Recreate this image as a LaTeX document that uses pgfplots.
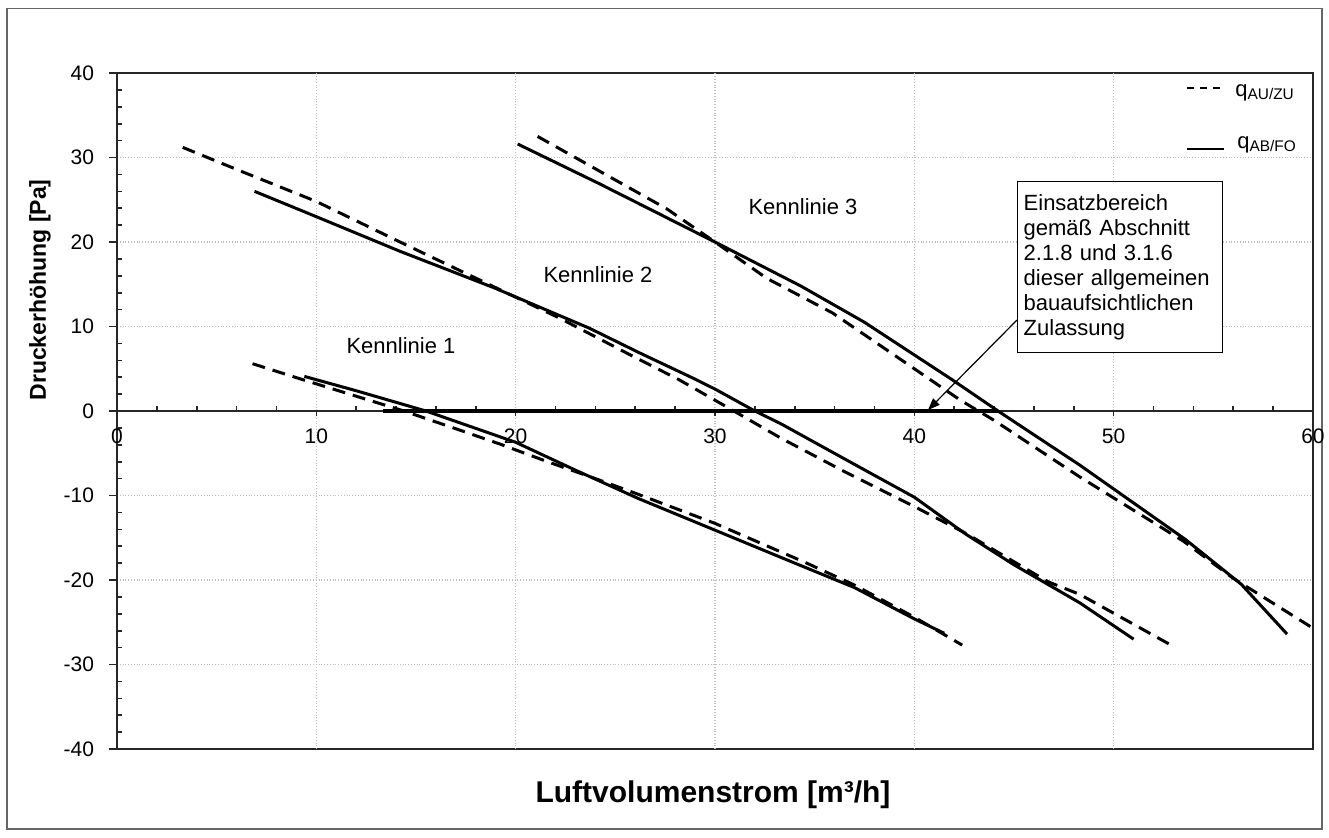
\documentclass[border=0pt]{standalone}
\usepackage{pgfplots}
\usepackage{pgfplotstable}
\pgfplotsset{compat=1.18}
\usepackage{fontspec}
\setmainfont{Liberation Sans}
\usetikzlibrary{arrows.meta}

\pgfplotstableread{
x y
6.8 5.6
9.2 3.8
11.8 1.9
14.4 0
17.0 -2.1
19.2 -3.9
21.6 -6.0
24.0 -8.0
26.2 -9.9
30.0 -13.3
34.6 -18.0
37.0 -20.6
40.0 -24.4
42.4 -27.7
}\kAdash
\pgfplotstableread{
x y
9.4 4.1
12.0 2.4
15.5 0
20.0 -3.7
23.0 -7.0
26.2 -10.4
30.0 -14.1
33.9 -17.9
37.0 -20.9
40.0 -24.6
41.5 -26.3
}\kAsolid
\pgfplotstableread{
x y
3.3 31.2
6.2 28.4
10.0 24.8
14.2 20.0
19.0 14.6
22.2 11.0
25.7 6.7
28.2 3.7
30.8 0.2
33.3 -3.2
36.6 -7.3
40.0 -11.3
42.6 -14.5
46.7 -20.2
48.3 -21.7
52.8 -27.6
}\kBdash
\pgfplotstableread{
x y
6.9 26.0
10.0 23.0
14.2 18.9
18.9 14.6
21.2 12.3
23.7 9.8
26.2 6.9
28.8 4.0
30.0 2.6
32.0 0
33.3 -1.5
36.6 -5.8
40.0 -10.2
42.6 -14.6
45.0 -18.2
48.3 -22.7
51.0 -27.0
}\kBsolid
\pgfplotstableread{
x y
21.1 32.5
24.2 28.4
27.6 23.9
30.0 20.0
32.6 15.7
35.9 11.6
42.3 1.3
44.0 -1.1
48.3 -7.8
53.5 -15.4
56.0 -19.8
60.0 -25.7
}\kCdash
\pgfplotstableread{
x y
20.1 31.6
24.2 26.9
30.0 20.0
34.3 14.8
37.5 10.5
41.9 3.7
44.2 0
48.3 -6.4
53.6 -15.2
56.4 -20.5
58.7 -26.4
}\kCsolid

\begin{document}
\begin{tikzpicture}
\useasboundingbox (0,0) rectangle (664.5pt,-418.5pt);
\draw[black!60, line width=0.7pt] (3.5pt,-4.25pt) rectangle (661pt,-414.5pt);

\begin{axis}[
 at={(58.5pt,-374.5pt)}, anchor=south west,
 scale only axis, width=598pt, height=338pt,
 xmin=0, xmax=60, ymin=-40, ymax=40,
 axis line style={line width=1pt, black!85},
 xtick=\empty,
 extra x ticks={10,20,30,40,50},
 extra x tick labels={},
 extra x tick style={xmajorgrids=true, major tick length=0pt},
 ytick={-40,-30,...,40},
 ytick pos=left,
 tick align=outside,
 major tick length=4pt,
 ymajorgrids=true,
 major grid style={densely dotted, black!25, line width=0.6pt},
 extra y ticks={-38,-36,-34,-32,-28,-26,-24,-22,-18,-16,-14,-12,-8,-6,-4,-2,2,4,6,8,12,14,16,18,22,24,26,28,32,34,36,38},
 extra y tick labels={},
 extra y tick style={tick align=inside, major tick length=2.5pt, ymajorgrids=false},
 tick style={black!85, line width=0.8pt},
 yticklabel style={font=\fontsize{10.5}{12}\selectfont, xshift=-4pt},
 /pgf/number format/assume math mode=true,
]
\end{axis}

\begin{axis}[
 at={(58.5pt,-374.5pt)}, anchor=south west,
 scale only axis, width=598pt, height=338pt,
 xmin=0, xmax=60, ymin=-40, ymax=40,
 axis x line=middle, axis y line=none,
 x axis line style={-, line width=0.9pt, black!85},
 xtick={0,10,...,60},
 tick align=outside,
 major tick length=2.5pt,
 extra x ticks={2,4,6,8,12,14,16,18,22,24,26,28,32,34,36,38,42,44,46,48,52,54,56,58},
 extra x tick labels={},
 extra x tick style={tick align=inside, major tick length=2.5pt},
 tick style={black!85, line width=0.8pt},
 xticklabel style={font=\fontsize{10.5}{12}\selectfont, yshift=-3pt},
 /pgf/number format/assume math mode=true,
]
\addplot[black, line width=1.5pt, dash pattern=on 6.5pt off 4pt] table {\kAdash};
\addplot[black, line width=1.5pt] table {\kAsolid};
\addplot[black, line width=1.5pt, dash pattern=on 6.5pt off 4pt] table {\kBdash};
\addplot[black, line width=1.5pt] table {\kBsolid};
\addplot[black, line width=1.5pt, dash pattern=on 6.5pt off 4pt] table {\kCdash};
\addplot[black, line width=1.5pt] table {\kCsolid};
\addplot[black, line width=2pt] coordinates {(13.35,0) (44.2,0)};
\end{axis}

\begin{scope}[x=0.5pt, y=-0.5pt]
\node[font=\fontsize{11}{13}\selectfont] at (401,346) {Kennlinie 1};
\node[font=\fontsize{11}{13}\selectfont] at (598,275) {Kennlinie 2};
\node[font=\fontsize{11}{13}\selectfont] at (803,207) {Kennlinie 3};
\node[draw=black, line width=0.7pt, fill=white, anchor=north west, text width=96.5pt,
      inner xsep=3pt, minimum height=85.5pt, align=left,
      font=\fontsize{11}{12.5}\selectfont] at (1017,181)
  {Einsatzbereich\\gemäß Abschnitt\\2.1.8 und 3.1.6\\dieser allgemeinen\\bauaufsichtlichen\\Zulassung};
\draw[black, line width=0.6pt, -{Triangle[length=6pt, width=4.5pt]}] (1017,320) -- (928,410);
\draw[black, line width=1.3pt, dash pattern=on 3.5pt off 3pt] (1187,88) -- (1222,88);
\node[anchor=base west, inner sep=0pt, font=\fontsize{11}{13}\selectfont] at (1235,96) {q\textsubscript{AU/ZU}};
\draw[black, line width=1.3pt] (1187,149) -- (1224,149);
\node[anchor=base west, inner sep=0pt, font=\fontsize{11}{13}\selectfont] at (1237,148) {q\textsubscript{AB/FO}};
\node[rotate=90, font=\bfseries\fontsize{11.5}{14}\selectfont] at (40,290) {Druckerhöhung [Pa]};
\node[font=\bfseries\fontsize{15}{18}\selectfont] at (713,795) {Luftvolumenstrom [m³/h]};
\end{scope}
\end{tikzpicture}
\end{document}
